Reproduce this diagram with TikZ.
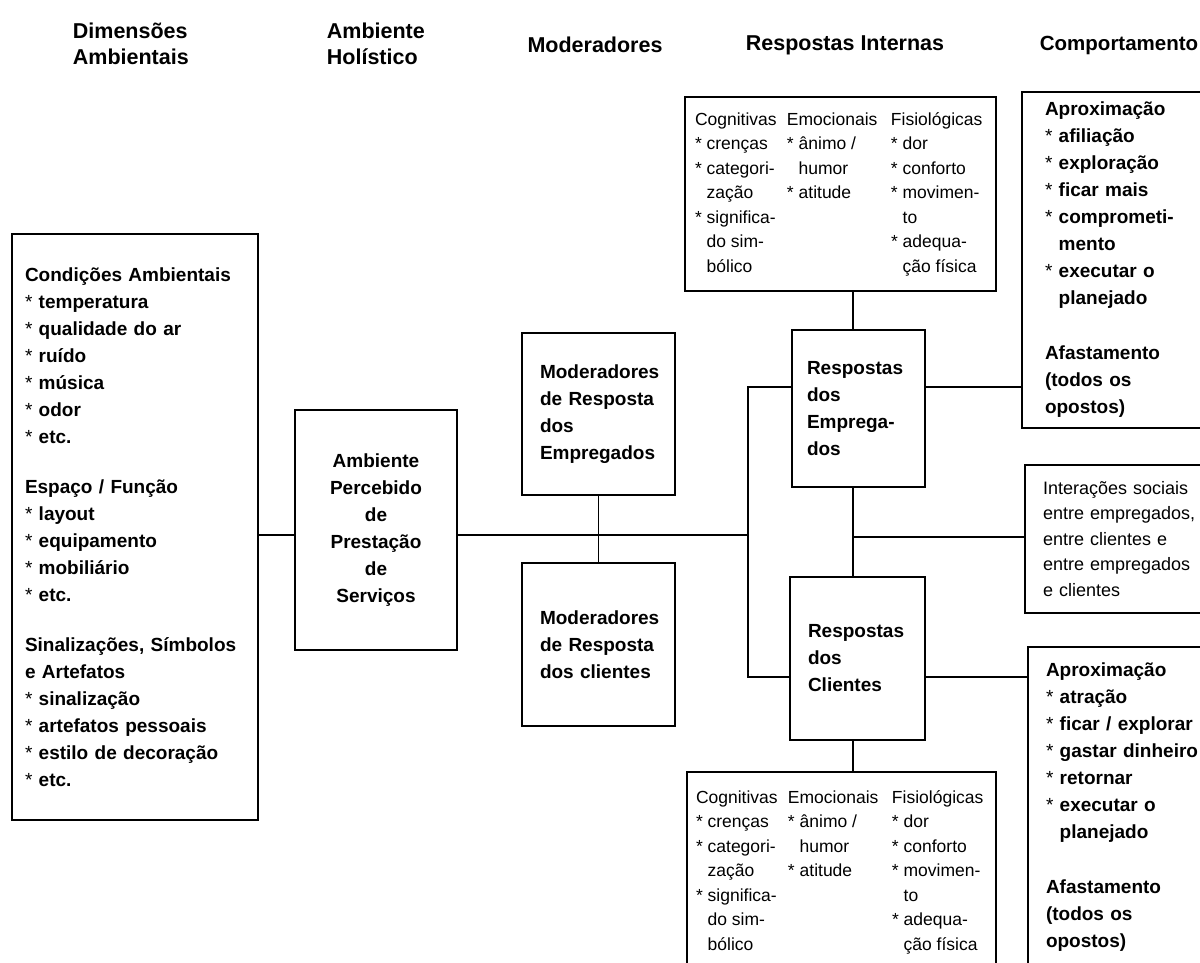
\documentclass[tikz,border=0pt]{standalone}
\usepackage{fontspec}
\setmainfont{Liberation Sans}
\usepackage{array}
\usetikzlibrary{positioning}
\usetikzlibrary{calc}
\newcommand{\ind}{\phantom{*}\ }
\newcommand{\bul}{{\mdseries*}\ }
\tikzset{main box/.style={rectangle,draw,line width=1.8pt,inner sep=0pt,align=left,font=\bfseries\fontsize{19}{27}\selectfont},
  head node/.style={inner sep=0pt,align=left,font=\bfseries\fontsize{21.5}{26}\selectfont},
  resp box/.style={rectangle,draw,line width=1.8pt,inner sep=0pt,font=\fontsize{17.5}{24.5}\selectfont},}

\begin{document}
\begin{tikzpicture}[x=1pt,y=-1pt,line width=1.8pt]
    \useasboundingbox (0,0) rectangle (1200,963);
    \clip (0,0) rectangle (1200,963);

    % column titles
    \node[head node,anchor=west] (t1) at (72,44) {Dimensões\\Ambientais};
    \node[head node,anchor=west] (t2) at (326,44) {Ambiente\\Holístico};
    \node[head node] (t3) at (595,45) {Moderadores};
    \node[head node] (t4) at (845,45) {Respostas Internas};
    \node[head node,anchor=west,font=\bfseries\fontsize{20.5}{26}\selectfont] (t5) at (1039,45) {Comportamento};

    % boxes
    \node[main box,minimum width=246pt,minimum height=586pt,text width=220pt] (dim) at (135,527)
      {Condições Ambientais\\\bul temperatura\\\bul qualidade do ar\\\bul ruído\\\bul música\\\bul odor\\\bul etc.\\[23pt]
       Espaço / Função\\\bul layout\\\bul equipamento\\\bul mobiliário\\\bul etc.\\[23pt]
       Sinalizações, Símbolos\\e Artefatos\\\bul sinalização\\\bul artefatos pessoais\\\bul estilo de decoração\\\bul etc.};
    \node[main box,align=center,minimum width=162pt,minimum height=240pt,text width=150pt] (amb) at (376,530)
      {Ambiente\\Percebido\\de\\Prestação\\de\\Serviços};
    \node[main box,minimum width=153pt,minimum height=162pt,text width=117pt] (modemp) at (598.5,414)
      {Moderadores\\de Resposta\\dos\\Empregados};
    \node[main box,minimum width=153pt,minimum height=163pt,text width=117pt] (modcli) at (598.5,644.5)
      {Moderadores\\de Resposta\\dos clientes};
    \node[main box,minimum width=133pt,minimum height=157pt,text width=103pt] (remp) at (858.5,408.5)
      {Respostas\\dos\\Emprega-\\dos};
    \node[main box,minimum width=135pt,minimum height=163pt,text width=99pt] (rcli) at (857.5,658.5)
      {Respostas\\dos\\Clientes};
    \node[resp box,minimum width=311pt,minimum height=194pt] (topint) at (840.5,194)
      {\begin{tabular}{@{}p{92pt}@{}p{104pt}@{}p{95pt}@{}}
       Cognitivas & Emocionais & Fisiológicas\\
       \bul crenças & \bul ânimo / & \bul dor\\
       \bul categori- & \ind humor & \bul conforto\\
       \ind zação & \bul atitude & \bul movimen-\\
       \bul significa- & & \ind to\\
       \ind do sim- & & \bul adequa-\\
       \ind bólico & & \ind ção física
       \end{tabular}};
    \node[resp box,minimum width=309pt,minimum height=200pt] (botint) at (841.5,872)
      {\begin{tabular}{@{}p{92pt}@{}p{104pt}@{}p{95pt}@{}}
       Cognitivas & Emocionais & Fisiológicas\\
       \bul crenças & \bul ânimo / & \bul dor\\
       \bul categori- & \ind humor & \bul conforto\\
       \ind zação & \bul atitude & \bul movimen-\\
       \bul significa- & & \ind to\\
       \ind do sim- & & \bul adequa-\\
       \ind bólico & & \ind ção física
       \end{tabular}};
    \node[main box,minimum width=238pt,minimum height=336pt,text width=192pt] (comp1) at (1141,260)
      {Aproximação\\\bul afiliação\\\bul exploração\\\bul ficar mais\\\bul comprometi-\\\ind mento\\\bul executar o\\\ind planejado\\[28pt]
       Afastamento\\(todos os\\opostos)};
    \node[main box,font=\fontsize{18}{25.5}\selectfont,minimum width=235pt,minimum height=148pt,text width=199pt] (inter) at (1142.5,539)
      {Interações sociais\\entre empregados,\\entre clientes e\\entre empregados\\e clientes};
    \node[main box,minimum width=232pt,minimum height=321pt,text width=196pt] (comp2) at (1144,807.5)
      {Aproximação\\\bul atração\\\bul ficar / explorar\\\bul gastar dinheiro\\\bul retornar\\\bul executar o\\\ind planejado\\[28pt]
       Afastamento\\(todos os\\opostos)};

    % connectors
    \coordinate (hub) at (748,535);
    \coordinate (jemp) at (748,387);
    \coordinate (jcli) at (748,677);
    \coordinate (spine) at (853,537);

    \draw (dim.east |- hub) -- (amb.west |- hub);
    \draw (amb.east |- hub) -- (hub);
    \draw (modemp.south) -- (modcli.north);
    \draw (remp.west |- jemp) -- (jemp) -- (jcli) -- (rcli.west |- jcli);
    \draw (remp.east |- jemp) -- (comp1.west |- jemp);
    \draw (rcli.east |- jcli) -- (comp2.west |- jcli);
    \draw (spine |- topint.south) -- (spine |- remp.north);
    \draw (spine |- remp.south) -- (spine |- rcli.north);
    \draw (spine) -- (inter.west |- spine);
    \draw (spine |- rcli.south) -- (spine |- botint.north);
\end{tikzpicture}
\end{document}
